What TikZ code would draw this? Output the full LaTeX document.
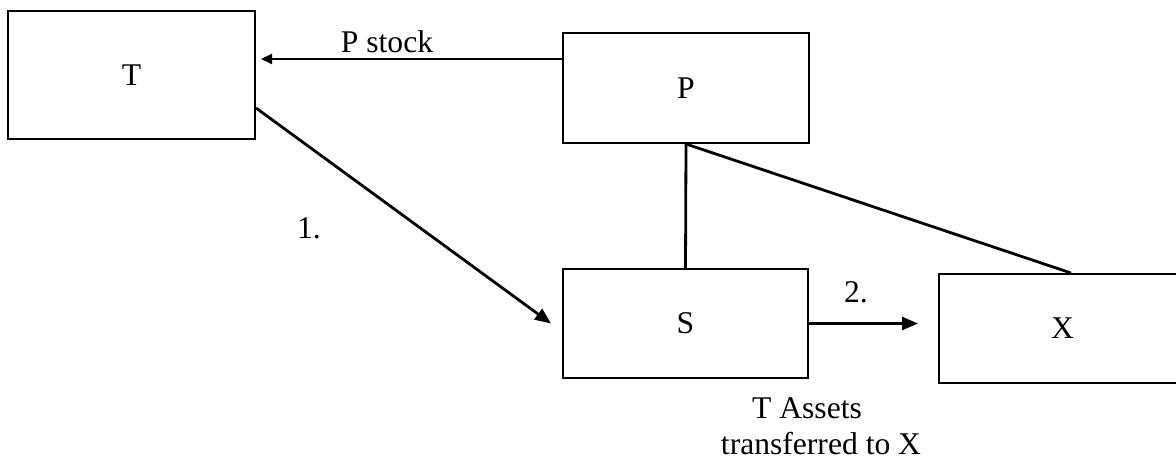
\documentclass[tikz,border=0pt]{standalone}
\usepackage{fontspec}
\setmainfont{Liberation Serif}
\usetikzlibrary{arrows.meta}
\begin{document}
\begin{tikzpicture}[x=0.5pt,y=-0.5pt,
  every node/.style={font=\fontsize{15.8}{19}\selectfont, inner sep=0pt},
  box/.style={draw, line width=1pt, rectangle},
  conn/.style={line width=1.4pt},
  bigtip/.style={-{Triangle[length=8pt,width=6.5pt]}},
  smalltip/.style={-{Triangle[length=5.5pt,width=5pt]}},
  lbl/.style={anchor=base}]
\useasboundingbox (0,0) rectangle (1176,459);
\begin{scope}
\clip (0,0) rectangle (1176,459);
\node[box, minimum width=123.5pt, minimum height=64pt] (T) at (131.5,75) {T};
\node[box, minimum width=123pt, minimum height=55pt] (P) at (686,88) {P};
\node[box, minimum width=122.5pt, minimum height=54.5pt] (S) at (685.5,323.5) {S};
\node[box, minimum width=123.5pt, minimum height=54.5pt] (X) at (1062.5,328.5) {X};

\draw[line width=0.9pt, smalltip] ([yshift=14.5pt]P.west) -- ([yshift=14.5pt,xshift=2.5pt]P.west -| T.east);
\draw[conn, bigtip] ([yshift=-16.5pt]T.east) -- ([xshift=-5.5pt]S.west);
\draw[conn] (P.south) -- (S.north);
\draw[conn] (P.south) -- ([xshift=4.25pt]X.north);
\draw[conn, bigtip] (S.east) -- ([xshift=-10pt]S.east -| X.west);

\node[lbl] (lstock) at (387,53) {P stock};
\node[lbl] (lone) at (309,239) {1.};
\node[lbl] (ltwo) at (856,303) {2.};
\node[lbl, align=center] (lassets) at (821,454) {T Assets\hspace*{14pt}\\[-1pt]transferred to X};
\end{scope}
\end{tikzpicture}
\end{document}
